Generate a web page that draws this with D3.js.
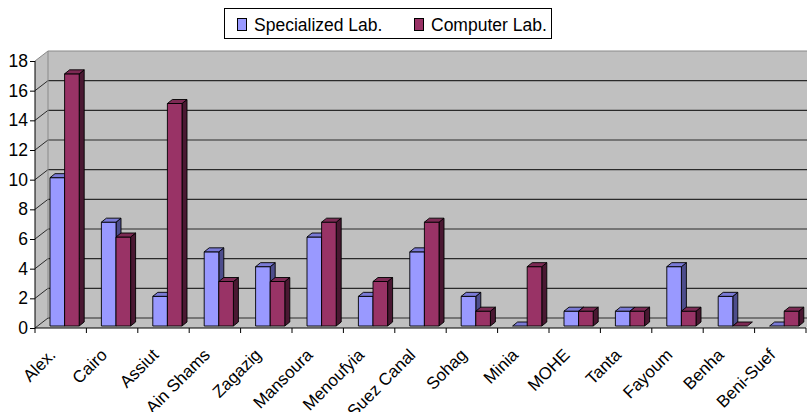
<!DOCTYPE html>
<html>
<head>
<meta charset="utf-8">
<script src="https://cdn.jsdelivr.net/npm/d3@7/dist/d3.min.js"></script>
<style>
  html, body { margin: 0; padding: 0; background: #fff; }
  svg { display: block; font-family: "Liberation Sans", Arial, sans-serif; }
</style>
</head>
<body>
<svg id="chart" width="807" height="412"></svg>
<script>
// Laboratories per university
const categories = ["Alex.", "Cairo", "Assiut", "Ain Shams", "Zagazig", "Mansoura", "Menoufyia",
  "Suez Canal", "Sohag", "Minia", "MOHE", "Tanta", "Fayoum", "Benha", "Beni-Suef"];
const specialized = [10, 7, 2, 5, 4, 6, 2, 5, 2, 0, 1, 1, 4, 2, 0];
const computer    = [17, 6, 15, 3, 3, 7, 3, 7, 1, 4, 1, 1, 1, 0, 1];
const seriesNames = ["Specialized Lab.", "Computer Lab."];
const yTicks = [0, 2, 4, 6, 8, 10, 12, 14, 16, 18];

const svg = d3.select("#chart");

// frame geometry of the 3-D plot box
const plotL = 35, plotR = 806, plotB = 328, plotT = 61;
const wallDX = 13, wallDY = -10;       // depth of the back wall
const barOffDX = 2.6, barOffDY = -2;   // bars' front plane inside the box
const barDX = 5, barDY = -4;           // bar depth

const y = d3.scaleLinear().domain([0, 18]).range([plotB, plotT]);
const x = d3.scaleBand().domain(categories).range([plotL, plotR]);
const xs = d3.scaleBand().domain(seriesNames).range([12.4, 41.6]);

const face = {
  "Specialized Lab.": { front: "#9999FF", top: "#7a7ad6", side: "#4d4d8c" },
  "Computer Lab.":    { front: "#993366", top: "#7d2a54", side: "#4a1832" }
};

const poly = pts => pts.map(p => p.join(",")).join(" ");

// walls and floor
const g = svg.append("g");
g.append("polygon") // back wall
  .attr("points", poly([[plotL + wallDX, y(18) + wallDY], [plotR + wallDX, y(18) + wallDY],
                        [plotR + wallDX, y(0) + wallDY], [plotL + wallDX, y(0) + wallDY]]))
  .attr("fill", "#C0C0C0");
g.append("polygon") // side wall
  .attr("points", poly([[plotL, y(18)], [plotL + wallDX, y(18) + wallDY],
                        [plotL + wallDX, y(0) + wallDY], [plotL, y(0)]]))
  .attr("fill", "#C0C0C0");
g.append("polygon") // floor
  .attr("points", poly([[plotL, y(0)], [plotL + wallDX, y(0) + wallDY],
                        [plotR + wallDX, y(0) + wallDY], [plotR, y(0)]]))
  .attr("fill", "#C0C0C0");

// gridlines on back and side walls
yTicks.forEach(t => {
  const yb = y(t) + wallDY;
  const col = t === 18 ? "#8a8a8a" : "#2a2a2a";
  g.append("line").attr("x1", plotL + wallDX).attr("x2", plotR + wallDX + 5)
    .attr("y1", yb).attr("y2", yb).attr("stroke", col).attr("stroke-width", 1.2);
  g.append("line").attr("x1", plotL).attr("y1", y(t))
    .attr("x2", plotL + wallDX).attr("y2", yb)
    .attr("stroke", col).attr("stroke-width", 1);
});
g.append("line").attr("x1", plotL + wallDX).attr("x2", plotL + wallDX)
  .attr("y1", y(18) + wallDY).attr("y2", y(0) + wallDY)
  .attr("stroke", "#8a8a8a").attr("stroke-width", 1);

// bars
const bars = svg.append("g").attr("stroke", "#000").attr("stroke-width", 0.9)
  .attr("stroke-linejoin", "round");
categories.forEach((c, i) => {
  [[seriesNames[0], specialized[i]], [seriesNames[1], computer[i]]].forEach(([s, v]) => {
    const x0 = x(c) + xs(s) + barOffDX, x1 = x0 + xs.bandwidth();
    const yb = y(0) + barOffDY, yt = y(v) + barOffDY;
    const col = face[s];
    if (v > 0) {
      bars.append("polygon").attr("fill", col.side)
        .attr("points", poly([[x1, yt], [x1 + barDX, yt + barDY], [x1 + barDX, yb + barDY], [x1, yb]]));
      bars.append("polygon").attr("fill", col.front)
        .attr("points", poly([[x0, yt], [x1, yt], [x1, yb], [x0, yb]]));
    }
    bars.append("polygon").attr("fill", col.top)
      .attr("points", poly([[x0, yt], [x0 + barDX, yt + barDY], [x1 + barDX, yt + barDY], [x1, yt]]));
  });
});

// value axis
const yAxis = svg.append("g").attr("transform", `translate(${plotL},0)`)
  .call(d3.axisLeft(y).tickValues(yTicks).tickSize(5).tickPadding(2).tickFormat(d3.format("d")));
yAxis.select(".domain").attr("stroke", "#000").attr("d", `M0,${y(18)}V${y(0)}`);
yAxis.selectAll(".tick line").attr("stroke", "#000");
yAxis.selectAll(".tick text").attr("font-size", 17.5).attr("fill", "#000")
  .attr("font-family", "'Liberation Sans', Arial, sans-serif");

// category axis
const xAxis = svg.append("g");
xAxis.append("line").attr("x1", plotL).attr("x2", plotR).attr("y1", plotB).attr("y2", plotB)
  .attr("stroke", "#000").attr("stroke-width", 1);
categories.concat([null]).forEach(c => {
  const xt = c ? x(c) : plotR;
  xAxis.append("line").attr("x1", xt).attr("x2", xt).attr("y1", plotB).attr("y2", plotB + 5)
    .attr("stroke", "#000");
});
categories.forEach(c => {
  const cx = x(c) + x.bandwidth() / 2 - 4;
  xAxis.append("text")
    .attr("transform", `translate(${cx},${plotB + 28}) rotate(-45)`)
    .attr("text-anchor", "end").attr("font-size", 17).attr("fill", "#000")
    .text(c);
});

// legend
const lg = svg.append("g");
lg.append("rect").attr("x", 224.5).attr("y", 8.5).attr("width", 327).attr("height", 30)
  .attr("fill", "#fff").attr("stroke", "#000").attr("stroke-width", 1);
const legendX = [237, 414];
seriesNames.forEach((s, k) => {
  lg.append("rect").attr("x", legendX[k] + 0.5).attr("y", 18.5).attr("width", 9).attr("height", 12)
    .attr("fill", face[s].front).attr("stroke", "#000").attr("stroke-width", 1);
  lg.append("text").attr("x", legendX[k] + 17).attr("y", 30.5)
    .attr("font-size", 17.5).attr("fill", "#000").text(s);
});
</script>
</body>
</html>
